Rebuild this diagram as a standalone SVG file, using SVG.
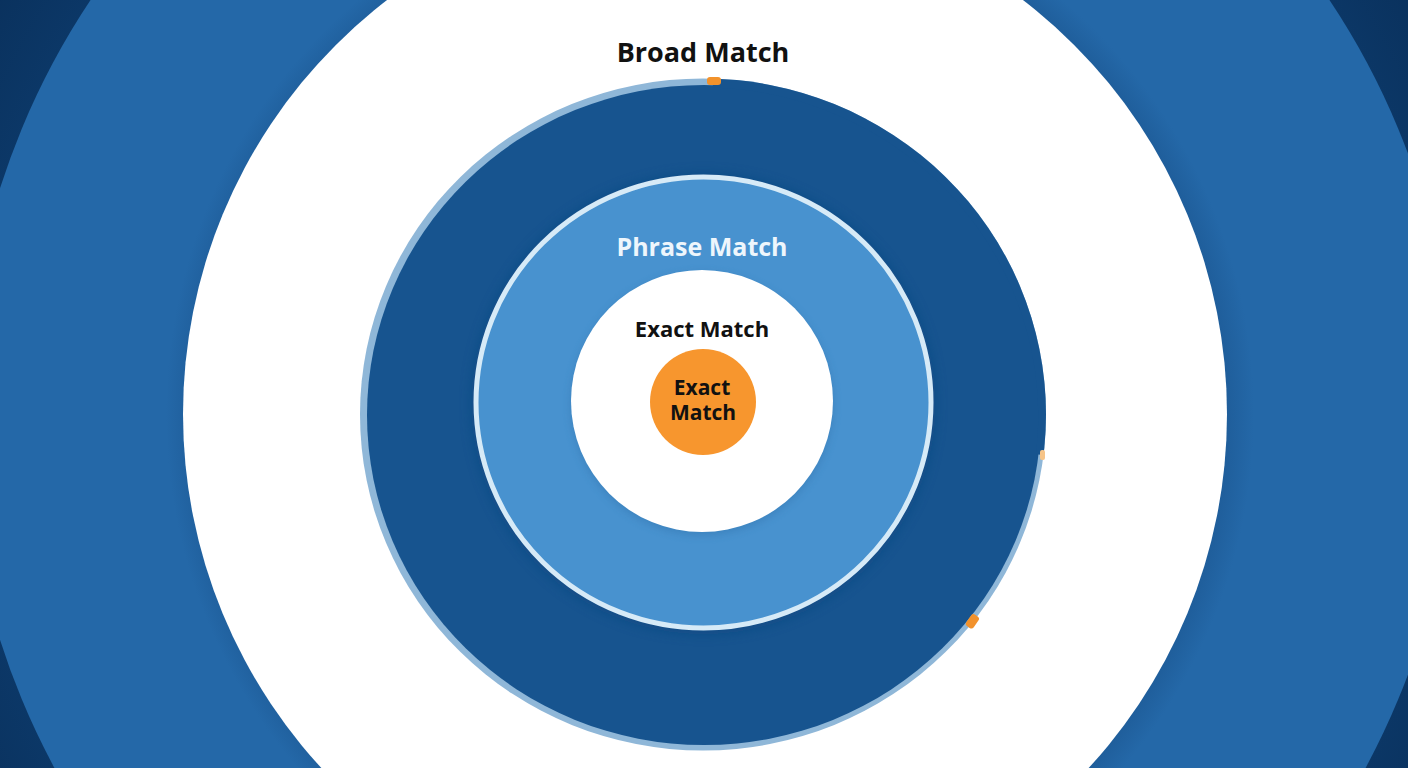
<svg xmlns="http://www.w3.org/2000/svg" width="1408" height="768" viewBox="0 0 1408 768">
  <defs>
    <style>
      .lbl { font-family: "Open Sans", "Noto Sans", "Liberation Sans", sans-serif; font-weight: 700; text-anchor: middle; }
    </style>
    <radialGradient id="bgGrad" cx="704" cy="414" r="900" gradientUnits="userSpaceOnUse">
      <stop offset="0.75" stop-color="#0d3c6e"/>
      <stop offset="1" stop-color="#082c55"/>
    </radialGradient>
    <radialGradient id="blueGrad" cx="710" cy="414" r="745" gradientUnits="userSpaceOnUse">
      <stop offset="0.68" stop-color="#1d5a96"/>
      <stop offset="0.73" stop-color="#2468a8"/>
      <stop offset="1" stop-color="#2468a8"/>
    </radialGradient>
    <clipPath id="ringClip">
      <ellipse cx="703" cy="414.5" rx="343" ry="336"/>
    </clipPath>
    <filter id="soft" x="-20%" y="-20%" width="140%" height="140%">
      <feGaussianBlur stdDeviation="6"/>
    </filter>
    <filter id="soft2" x="-20%" y="-20%" width="140%" height="140%">
      <feGaussianBlur stdDeviation="4"/>
    </filter>
  </defs>

  <g id="background">
    <rect x="0" y="0" width="1408" height="768" fill="url(#bgGrad)"/>
    <circle cx="710" cy="414" r="745" fill="url(#blueGrad)"/>
  </g>

  <g id="broad-match">
    <circle cx="705" cy="414" r="522" fill="#ffffff"/>
    <text class="lbl" x="703" y="62" font-size="27" fill="#111111">Broad Match</text>
  </g>

  <g id="outer-ring">
    <ellipse cx="703" cy="414.5" rx="343" ry="336" fill="#8fb7d8"/>
    <ellipse cx="704" cy="415" rx="337" ry="330" fill="#17548f"/>
    <path d="M 713 80.5 A 343 336 0 0 1 1043 455" fill="none" stroke="#17548f" stroke-width="14" clip-path="url(#ringClip)"/>
    <ellipse cx="703.5" cy="404" rx="232" ry="230" fill="#0f4680" opacity="0.6" filter="url(#soft)"/>
  </g>

  <g id="markers">
    <rect x="707" y="77" width="14" height="8" rx="3" fill="#f2922c"/>
    <rect x="1040" y="450" width="5" height="10" rx="2" fill="#f6c488"/>
    <rect x="968" y="614" width="9" height="14" rx="3" fill="#f2922c" transform="rotate(35 972 621)"/>
  </g>

  <g id="phrase-match">
    <ellipse cx="703.5" cy="402.5" rx="227.5" ry="225.5" fill="#4892cf" stroke="#d6eaf7" stroke-width="5"/>
    <text class="lbl" x="702" y="256" font-size="25" fill="#eef6fc">Phrase Match</text>
  </g>

  <g id="exact-match">
    <circle cx="702" cy="404" r="131" fill="#2f6fa8" opacity="0.45" filter="url(#soft2)"/>
    <circle cx="702" cy="401" r="131" fill="#ffffff"/>
    <text class="lbl" x="702" y="337" font-size="22" fill="#111111">Exact Match</text>
  </g>

  <g id="exact-core">
    <circle cx="703" cy="402" r="53" fill="#f7962e"/>
    <text class="lbl" font-size="21" font-weight="600" fill="#111111"><tspan x="702" y="395">Exact</tspan><tspan x="703" y="420">Match</tspan></text>
  </g>

  <g id="connectors"/>
</svg>
